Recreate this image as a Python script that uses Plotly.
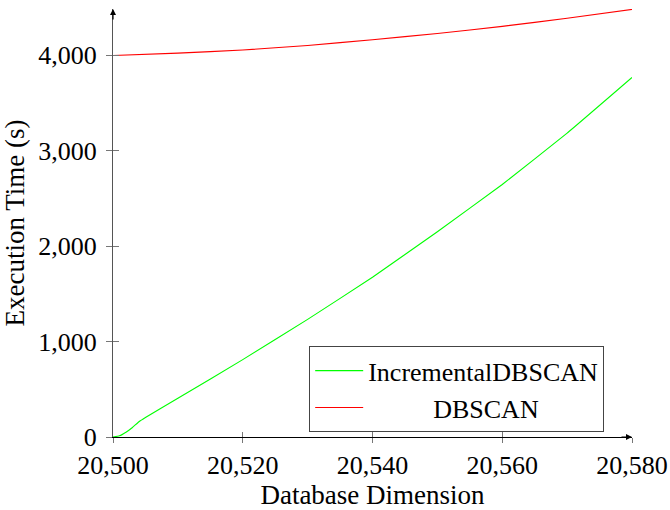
import plotly.graph_objects as go

# Data
inc_x = [20500, 20501, 20502, 20503, 20504, 20505, 20510, 20520, 20530, 20540, 20550, 20560, 20570, 20580]
inc_y = [0, 12, 50, 100, 160, 205, 405, 810, 1232, 1673, 2150, 2644, 3182, 3765]

db_x = [20500, 20510, 20520, 20530, 20540, 20550, 20560, 20570, 20580]
db_y = [3995, 4020, 4052, 4100, 4160, 4225, 4300, 4385, 4478]

x_ticks = [20500, 20520, 20540, 20560, 20580]
y_ticks = [0, 1000, 2000, 3000, 4000]

FONT = "'Liberation Serif', 'Times New Roman', serif"
X_RANGE = [20500, 20580]
Y_RANGE = [0, 4482]

fig = go.Figure()
fig.add_trace(go.Scatter(x=inc_x, y=inc_y, mode="lines", name="IncrementalDBSCAN",
                         line=dict(color="#00ff00", width=1.1, shape="spline", smoothing=0.3)))
fig.add_trace(go.Scatter(x=db_x, y=db_y, mode="lines",
                         name="\u00a0" * 10 + "DBSCAN",
                         line=dict(color="#ff0000", width=1.1, shape="spline", smoothing=0.3)))
# empty trace to activate the overlay axes (inner half of crossing ticks)
fig.add_trace(go.Scatter(x=[], y=[], xaxis="x2", yaxis="y2", showlegend=False,
                         hoverinfo="skip"))

fig.update_layout(
    width=670, height=510,
    margin=dict(l=113, r=38, t=9, b=73, autoexpand=False),
    plot_bgcolor="white", paper_bgcolor="white",
    font=dict(family=FONT, size=26, color="black"),
    showlegend=True,
    legend=dict(x=0.378, y=0.212, xanchor="left", yanchor="top",
                bordercolor="#444", borderwidth=1, bgcolor="white",
                itemwidth=48,
                font=dict(family=FONT, size=26), tracegroupgap=0),
    xaxis=dict(range=X_RANGE, tickvals=x_ticks, tickformat=",d", automargin=False,
               showgrid=False, zeroline=False, showline=True, linecolor="black",
               linewidth=1, ticks="outside", ticklen=5, tickcolor="#777",
               tickfont=dict(family=FONT, size=26),
               title=dict(text="Database Dimension", font=dict(family=FONT, size=27), standoff=1)),
    yaxis=dict(range=Y_RANGE, tickvals=y_ticks, tickformat=",d", automargin=False,
               showgrid=False, zeroline=False, showline=True, linecolor="#555",
               linewidth=1.2, ticks="outside", ticklen=6, tickcolor="#777",
               ticklabelstandoff=4,
               tickfont=dict(family=FONT, size=26),
               title=dict(text="Execution Time (s)", font=dict(family=FONT, size=27), standoff=8)),
    xaxis2=dict(range=X_RANGE, tickvals=x_ticks, overlaying="x", side="bottom",
                showticklabels=False, showgrid=False, zeroline=False, showline=False,
                automargin=False, ticks="inside", ticklen=5, tickcolor="#777"),
    yaxis2=dict(range=Y_RANGE, tickvals=y_ticks, overlaying="y", side="left",
                showticklabels=False, showgrid=False, zeroline=False, showline=False,
                automargin=False, ticks="inside", ticklen=6, tickcolor="#777"),
)

# axis arrows
fig.add_annotation(x=1, y=0, xref="paper", yref="paper", ax=-12, ay=0,
                   showarrow=True, arrowhead=2, arrowsize=1, arrowwidth=1.2,
                   arrowcolor="black", text="")
fig.add_annotation(x=0, y=1, xref="paper", yref="paper", ax=0, ay=12,
                   showarrow=True, arrowhead=2, arrowsize=1, arrowwidth=1.2,
                   arrowcolor="black", text="")

fig.write_html("out.html", config={"displayModeBar": False},
               post_script="document.body.style.margin='0';document.body.style.padding='0';")
